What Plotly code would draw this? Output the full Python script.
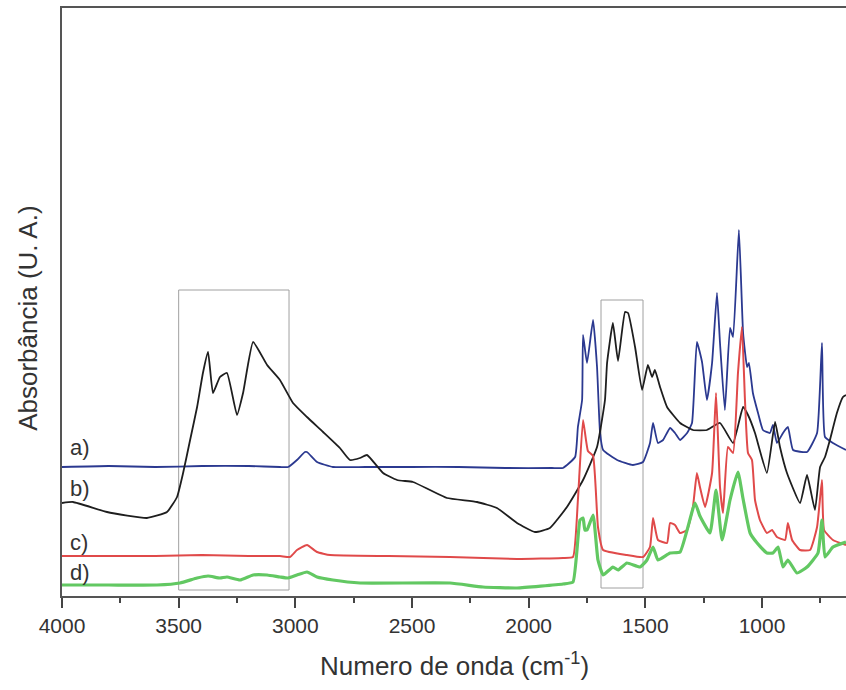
import plotly.graph_objects as go

# FTIR spectra, wavenumber (cm-1) and absorbance (arbitrary units, stacked offsets)
wn_a = [4000, 3800, 3600, 3400, 3200, 3066, 3031, 2993, 2959, 2950, 2907, 2839, 2700, 2500, 2300,
        2100, 1900, 1853, 1801, 1789, 1771, 1767, 1750, 1724, 1707, 1694, 1681, 1621, 1553, 1510,
        1480, 1467, 1446, 1424, 1394, 1373, 1351, 1321, 1300, 1279, 1257, 1236, 1214, 1193, 1180,
        1159, 1137, 1124, 1099, 1081, 1064, 1056, 1039, 1017, 996, 966, 953, 936, 910, 889, 867,
        807, 764, 743, 730, 696, 640]
abs_a = [129, 130, 129, 130, 130, 129, 129, 136, 144, 144, 134, 129, 129, 129, 129,
         128, 128, 128, 139, 169, 196, 261, 233, 276, 229, 163, 146, 136, 131, 134,
         153, 173, 153, 156, 168, 163, 156, 163, 173, 254, 234, 196, 233, 303, 253,
         186, 268, 259, 366, 263, 229, 233, 203, 183, 166, 163, 171, 153, 163, 169, 146,
         144, 163, 253, 159, 153, 146]

wn_b = [4000, 3953, 3807, 3636, 3550, 3507, 3481, 3451, 3421, 3396, 3374, 3353, 3323, 3293, 3250,
        3224, 3181, 3121, 3066, 3010, 2950, 2881, 2809, 2766, 2723, 2693, 2624, 2564, 2496, 2423,
        2350, 2221, 2136, 2050, 1973, 1909, 1836, 1767, 1707, 1673, 1664, 1639, 1617, 1587, 1574,
        1544, 1514, 1489, 1471, 1459, 1437, 1407, 1351, 1296, 1236, 1180, 1124, 1081, 1060, 1030,
        979, 944, 923, 893, 837, 807, 773, 751, 730, 709, 679, 653, 640]
abs_b = [93, 94, 84, 78, 84, 99, 123, 156, 189, 223, 244, 203, 219, 223, 181,
         203, 254, 231, 216, 193, 179, 164, 148, 136, 138, 141, 123, 116, 114, 106,
         98, 94, 88, 73, 64, 68, 89, 116, 149, 196, 233, 273, 235, 284, 283,
         249, 206, 231, 219, 226, 209, 189, 173, 166, 166, 173, 153, 189, 181, 163,
         123, 174, 149, 123, 93, 121, 86, 129, 139, 156, 183, 199, 201]

wn_c = [4000, 3800, 3600, 3400, 3200, 3066, 3023, 2993, 2950, 2907, 2851, 2600, 2337, 2050, 1853,
        1810, 1789, 1767, 1746, 1724, 1703, 1681, 1579, 1510, 1480, 1467, 1446, 1407, 1394, 1373,
        1351, 1321, 1296, 1279, 1266, 1244, 1214, 1197, 1180, 1167, 1146, 1124, 1103, 1086, 1073,
        1060, 1043, 1030, 1009, 979, 957, 936, 901, 889, 871, 837, 794, 764, 743, 734, 696, 640]
abs_c = [40, 40, 40, 41, 40, 40, 39, 46, 51, 44, 41, 40, 39, 37, 38,
         39, 96, 176, 145, 140, 69, 46, 41, 39, 49, 78, 56, 53, 73, 71,
         63, 66, 89, 123, 109, 89, 123, 203, 109, 83, 149, 143, 223, 269, 196,
         143, 136, 96, 76, 63, 66, 59, 56, 73, 56, 46, 46, 69, 116, 66, 56, 51]

wn_d = [4000, 3800, 3593, 3494, 3421, 3374, 3323, 3293, 3237, 3181, 3121, 3066, 3031, 2993, 2950,
        2907, 2839, 2723, 2337, 2196, 2050, 1853, 1810, 1780, 1767, 1759, 1750, 1724, 1703, 1681,
        1639, 1617, 1579, 1523, 1493, 1467, 1446, 1394, 1351, 1287, 1266, 1223, 1197, 1171, 1137,
        1103, 1081, 1051, 1021, 979, 953, 931, 910, 889, 850, 807, 760, 743, 730, 696, 640]
abs_d = [11, 11, 11, 13, 18, 20, 18, 19, 16, 21, 21, 19, 18, 21, 24,
         19, 16, 13, 13, 9, 8, 12, 14, 76, 78, 66, 66, 81, 36, 21,
         29, 26, 33, 29, 36, 49, 36, 43, 44, 93, 80, 63, 106, 56, 96,
         124, 97, 63, 53, 43, 43, 49, 29, 36, 23, 29, 43, 76, 39, 49, 54]

series = [
    ("a)", wn_a, abs_a, "#2b3990", 1.8),
    ("b)", wn_b, abs_b, "#1e1e1e", 1.8),
    ("c)", wn_c, abs_c, "#e04a4a", 2.0),
    ("d)", wn_d, abs_d, "#62c862", 3.2),
]
label_y = [149, 108, 54, 24]

# highlighted regions (cm-1 span, absorbance span)
boxes = [(3500, 3027, 6, 306), (1690, 1510, 8, 296)]

FONT = "Liberation Sans, Arial, sans-serif"

fig = go.Figure()
for name, x, y, col, w in series:
    fig.add_trace(go.Scatter(x=x, y=y, mode="lines", name=name,
                             line=dict(color=col, width=w, shape="spline", smoothing=0.4),
                             showlegend=False))

for x0, x1, y0, y1 in boxes:
    fig.add_shape(type="rect", x0=x0, x1=x1, y0=y0, y1=y1, xref="x", yref="y",
                  line=dict(color="#a0a0a0", width=1), layer="below")

for (name, *_), ly in zip(series, label_y):
    fig.add_annotation(text=name, x=0.008, xref="paper", y=ly, yref="y",
                       xanchor="left", yanchor="middle", showarrow=False,
                       font=dict(family=FONT, size=22, color="#333333"))

fig.add_annotation(text="Absorbância (U. A.)", textangle=-90, x=-0.0434, xref="paper",
                   y=0.473, yref="paper", xanchor="center", yanchor="middle", showarrow=False,
                   font=dict(family=FONT, size=26, color="#333333"))
fig.add_annotation(text="Numero de onda (cm<sup>-1</sup>)", x=0.5, xref="paper",
                   y=-0.117, yref="paper", xanchor="center", yanchor="middle", showarrow=False,
                   font=dict(family=FONT, size=26, color="#333333"))

fig.update_xaxes(range=[4000, 640], showgrid=False, zeroline=False,
                 showline=True, mirror=True, linecolor="#555555", linewidth=2,
                 ticks="outside", ticklen=10, tickwidth=1.5, tickcolor="#444444",
                 tickvals=[4000, 3500, 3000, 2500, 2000, 1500, 1000],
                 minor=dict(tickvals=[3750, 3250, 2750, 2250, 1750, 1250, 750],
                            ticks="outside", ticklen=5, tickwidth=1.5, tickcolor="#444444"),
                 tickfont=dict(family=FONT, size=21, color="#333333"))
fig.update_yaxes(range=[0, 588], showgrid=False, zeroline=False, showticklabels=False,
                 showline=True, mirror=False, linecolor="#555555", linewidth=2, ticks="")

fig.update_layout(width=846, height=690, margin=dict(l=62, r=0, t=8, b=94),
                  paper_bgcolor="white", plot_bgcolor="white")

fig.write_html("out.html")
